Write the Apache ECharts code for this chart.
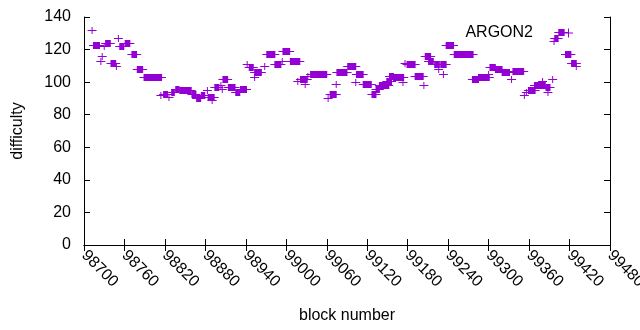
<!DOCTYPE html>
<html style="height: 100%">
<head>
    <meta charset="utf-8">
    <script src="https://cdn.jsdelivr.net/npm/echarts@6.0.0/dist/echarts.min.js"></script>
</head>
<body style="height: 100%; margin: 0; background: #fff">
    <div id="container" style="width: 640px; height: 330px"></div>
    <script type="text/javascript">
        var myChart = echarts.init(document.getElementById('container'));

        const pointColor = '#9400d3';
        const font = 'Liberation Sans, Arial, sans-serif';

        // runs of consecutive blocks sharing one difficulty (single points: start == end)
        const runStart = [98712, 98714, 98725, 98727, 98730, 98732, 98740, 98748, 98751, 98753,
            98761, 98771, 98779, 98789, 98814, 98818, 98826, 98830, 98836, 98842,
            98860, 98867, 98874, 98883, 98884, 98890, 98894, 98903, 98905, 98906,
            98914, 98925, 98932, 98942, 98945, 98953, 98953, 98968, 98971, 98983,
            98994, 98995, 99006, 99017, 99021, 99028, 99032, 99036, 99062, 99065,
            99074, 99075, 99091, 99103, 99104, 99114, 99127, 99133, 99138, 99149,
            99153, 99159, 99173, 99176, 99179, 99191, 99204, 99206, 99211, 99220,
            99226, 99229, 99233, 99237, 99249, 99276, 99285, 99300, 99302, 99310,
            99320, 99334, 99336, 99353, 99356, 99359, 99368, 99380, 99385, 99388,
            99395, 99397, 99398, 99404, 99414, 99423, 99430];
        const runEnd = [98712, 98723, 98725, 98727, 98730, 98739, 98747, 98748, 98751, 98759,
            98768, 98778, 98787, 98815, 98814, 98824, 98826, 98834, 98841, 98859,
            98866, 98873, 98879, 98883, 98893, 98890, 98900, 98903, 98905, 98913,
            98924, 98931, 98941, 98942, 98951, 98963, 98953, 98968, 98983, 98992,
            98994, 99005, 99020, 99017, 99031, 99028, 99032, 99060, 99062, 99074,
            99074, 99090, 99103, 99103, 99114, 99126, 99133, 99138, 99152, 99156,
            99159, 99174, 99173, 99176, 99191, 99203, 99204, 99214, 99218, 99227,
            99226, 99237, 99233, 99248, 99277, 99285, 99301, 99300, 99310, 99320,
            99331, 99334, 99352, 99353, 99356, 99369, 99384, 99380, 99391, 99388,
            99395, 99397, 99403, 99412, 99422, 99430, 99430];
        const runValue = [132, 123, 113, 116, 122, 124, 112, 110, 127, 122,
            124, 117, 108, 103, 92, 93, 91, 94, 96, 95,
            93, 90, 92, 95, 91, 89, 97, 98, 96, 102,
            97, 94, 96, 111, 109, 106, 103, 110, 117, 111,
            113, 119, 113, 101, 102, 99, 104, 105, 90, 93,
            99, 106, 110, 100, 105, 99, 93, 96, 98, 101,
            104, 103, 100, 112, 111, 104, 98, 116, 113, 111,
            108, 111, 105, 123, 117, 102, 103, 105, 109, 108,
            106, 102, 107, 92, 94, 95, 98, 101, 97, 94,
            102, 125, 127, 131, 117, 112, 110];

        const seriesData = runStart.map(function (s, i) {
            return [s, runEnd[i], runValue[i]];
        });

        function renderRun(params, api) {
            var a = api.coord([api.value(0), api.value(2)]);
            var b = api.coord([api.value(1), api.value(2)]);
            var y = Math.round(a[1]) + 0.5;
            return {
                type: 'group',
                children: [
                    {
                        type: 'rect',
                        shape: { x: a[0] - 0.5, y: y - 3.5, width: b[0] - a[0] + 1, height: 7 },
                        style: { fill: pointColor }
                    },
                    {
                        type: 'line',
                        shape: { x1: a[0] - 4.5, y1: y, x2: b[0] + 4.5, y2: y },
                        style: { stroke: pointColor, lineWidth: 1 }
                    }
                ]
            };
        }

        const axisLine = { show: true, lineStyle: { color: '#000', width: 1 } };
        const tick = { show: true, inside: true, length: 6, lineStyle: { color: '#000' } };

        option = {
            animation: false,
            backgroundColor: '#fff',
            textStyle: { fontFamily: font },
            grid: { left: 84, right: 30, top: 17, bottom: 85, containLabel: false, outerBoundsMode: 'none' },
            legend: {
                data: [{ name: 'ARGON2', icon: 'path://M4,0h1v4h4v1h-4v4h-1v-4h-4v-1h4z' }],
                right: 62, top: 20,
                align: 'right',
                itemWidth: 9, itemHeight: 9,
                itemStyle: { color: pointColor },
                textStyle: { fontSize: 16, color: '#000', fontFamily: font, padding: [0, 26, 0, 0] }
            },
            xAxis: [
                {
                    type: 'value', min: 98700, max: 99480, interval: 60,
                    name: 'block number', nameLocation: 'middle', nameGap: 63,
                    nameTextStyle: { fontSize: 16, color: '#000' },
                    axisLine: axisLine, axisTick: tick, splitLine: { show: false },
                    axisLabel: {
                        rotate: -45, fontSize: 16, color: '#000', margin: 8, showMaxLabel: true,
                        formatter: function (v) { return String(v); }
                    }
                },
                {
                    type: 'value', position: 'top', min: 98700, max: 99480, interval: 60,
                    axisLine: axisLine, axisTick: tick, splitLine: { show: false },
                    axisLabel: { show: false }
                }
            ],
            yAxis: [
                {
                    type: 'value', min: 0, max: 140, interval: 20,
                    name: 'difficulty', nameLocation: 'middle', nameGap: 58,
                    nameTextStyle: { fontSize: 16, color: '#000' },
                    axisLine: axisLine, axisTick: tick, splitLine: { show: false },
                    axisLabel: { fontSize: 16, color: '#000', margin: 13 }
                },
                {
                    type: 'value', position: 'right', min: 0, max: 140, interval: 20,
                    axisLine: axisLine, axisTick: tick, splitLine: { show: false },
                    axisLabel: { show: false }
                }
            ],
            series: [
                {
                    name: 'ARGON2', type: 'custom',
                    xAxisIndex: 0, yAxisIndex: 0,
                    renderItem: renderRun,
                    itemStyle: { color: pointColor },
                    encode: { x: [0, 1], y: 2 },
                    data: seriesData
                }
            ]
        };

        myChart.setOption(option);
        window.addEventListener('resize', function() { myChart.resize(); });
    </script>
</body>
</html>
